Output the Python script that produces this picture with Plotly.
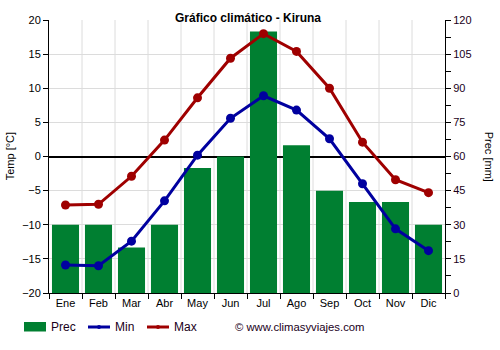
import plotly.graph_objects as go

months = ["Ene", "Feb", "Mar", "Abr", "May", "Jun", "Jul", "Ago", "Sep", "Oct", "Nov", "Dic"]
prec = [30, 30, 20, 30, 55, 60, 115, 65, 45, 40, 40, 30]
t_min = [-15.9, -16.0, -12.4, -6.5, 0.2, 5.6, 8.9, 6.8, 2.6, -4.0, -10.6, -13.8]
t_max = [-7.1, -7.0, -2.9, 2.4, 8.6, 14.4, 18.0, 15.4, 10.0, 2.1, -3.4, -5.3]

FONT = "Liberation Sans, Arial, sans-serif"
GREEN = "#007f31"
BLUE = "#00009f"
RED = "#9f0000"
TXT = "#1a001a"

fig = go.Figure()

# precipitation bars on the base (right-hand) axis so the lines sit above them
fig.add_trace(go.Bar(
    x=months, y=prec, name="Prec", yaxis="y",
    marker=dict(color=GREEN, line=dict(width=0)),
))
fig.add_trace(go.Scatter(
    x=months, y=t_min, name="Min", mode="lines+markers", yaxis="y2",
    line=dict(color=BLUE, width=3), marker=dict(size=9, color=BLUE),
))
fig.add_trace(go.Scatter(
    x=months, y=t_max, name="Max", mode="lines+markers", yaxis="y2",
    line=dict(color=RED, width=3), marker=dict(size=9, color=RED),
))

fig.update_layout(
    width=500, height=350,
    margin=dict(l=49, r=55, t=20, b=57),
    paper_bgcolor="white", plot_bgcolor="white",
    font=dict(family=FONT, size=11, color="#000000"),
    title=dict(text="<b>Gráfico climático - Kiruna</b>", x=0.496, xanchor="center",
               y=1 - 18 / 350, yanchor="middle", font=dict(size=12, color="#000000")),
    bargap=0.18,
    showlegend=False,
    xaxis=dict(
        type="category", range=[-0.5, 11.5],
        showgrid=False, showline=True, linecolor="#000000", linewidth=1,
        ticks="outside", ticklen=5, tickcolor="#000000",
        tickson="boundaries", tickfont=dict(size=11),
    ),
    yaxis=dict(
        range=[0, 120], dtick=15, tick0=0, side="right",
        showgrid=False, zeroline=False,
        showline=True, linecolor="#000000", linewidth=1,
        ticks="outside", ticklen=5, tickcolor="#000000",
        minor=dict(dtick=7.5, ticks="outside", ticklen=5, tickcolor="#000000"),
        tickfont=dict(color=TXT),
    ),
    yaxis2=dict(
        range=[-20, 20], dtick=5, tick0=-20, overlaying="y", side="left",
        showgrid=True, gridcolor="#dcdcdc", gridwidth=1,
        showline=True, linecolor="#000000", linewidth=1,
        ticks="outside", ticklen=5, tickcolor="#000000",
        zeroline=True, zerolinecolor="#000000", zerolinewidth=2,
    ),
)

# vertical grid at category boundaries
for i in range(1, 12):
    fig.add_shape(type="line", xref="x", yref="paper", x0=i - 0.5, x1=i - 0.5,
                  y0=0, y1=1, line=dict(color="#dcdcdc", width=1), layer="below")

# axis titles
fig.add_annotation(text="Temp [°C]", xref="paper", yref="paper", x=-0.099, y=0.5,
                   xanchor="center", yanchor="middle", textangle=-90, showarrow=False,
                   font=dict(size=11, color="#000000"))
fig.add_annotation(text="Prec [mm]", xref="paper", yref="paper", x=1.113, y=0.5,
                   xanchor="center", yanchor="middle", textangle=90, showarrow=False,
                   font=dict(size=11, color="#000000"))

# legend row along the bottom (pixel positions converted to paper fractions)
W, H, L, B, PW, PH = 500, 350, 49, 57, 396, 273
def px(x):
    return (x - L) / PW
def py(y):
    return (H - B - y) / PH

ly = 327
fig.add_shape(type="rect", xref="paper", yref="paper", x0=px(24), x1=px(46),
              y0=py(331.5), y1=py(322), fillcolor=GREEN, line=dict(width=0))
for x0, color in [(88, BLUE), (147, RED)]:
    fig.add_shape(type="line", xref="paper", yref="paper", x0=px(x0), x1=px(x0 + 22),
                  y0=py(ly), y1=py(ly), line=dict(color=color, width=3))
    fig.add_shape(type="circle", xref="paper", yref="paper",
                  x0=px(x0 + 11 - 2), x1=px(x0 + 11 + 2), y0=py(ly + 2), y1=py(ly - 2),
                  fillcolor=color, line=dict(width=0))
for x0, txt, size in [(51, "Prec", 12), (115, "Min", 12), (174, "Max", 12),
                      (235, "© www.climasyviajes.com", 11.3)]:
    fig.add_annotation(text=txt, xref="paper", yref="paper", x=px(x0), y=py(ly),
                       xanchor="left", yanchor="middle", showarrow=False,
                       font=dict(size=size, color=TXT), xshift=-2)

fig.write_html("out.html")
